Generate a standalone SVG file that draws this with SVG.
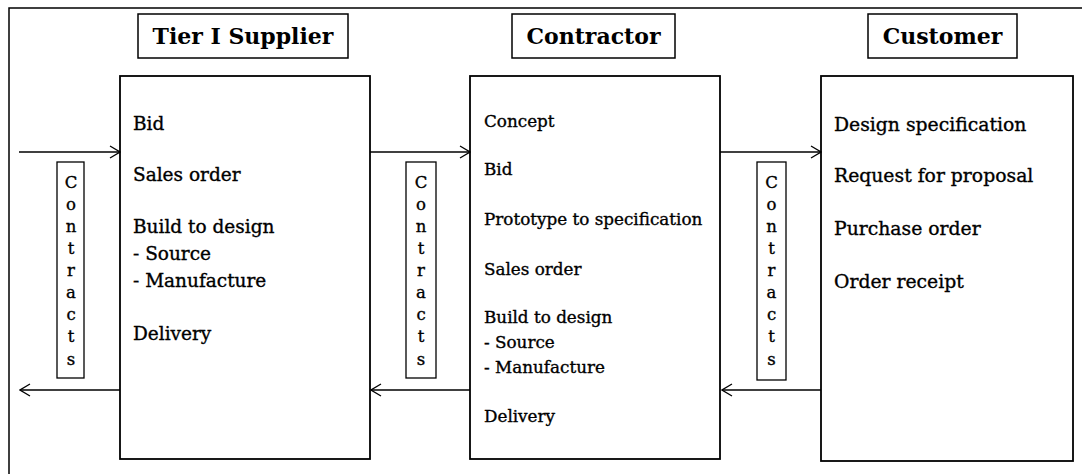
<svg xmlns="http://www.w3.org/2000/svg" width="1082" height="474" viewBox="0 0 1082 474">
  <style>
    .frame { fill: none; stroke: #000; stroke-width: 1.5; }
    .box { fill: #fff; stroke: #000; stroke-width: 1.8; }
    .tbox { fill: #fff; stroke: #000; stroke-width: 1.5; }
    .cbox { fill: #fff; stroke: #000; stroke-width: 1.3; }
    .title { font-family: "DejaVu Serif", serif; font-weight: bold; font-size: 22px; fill: #000; text-anchor: middle; }
    .body { font-family: "DejaVu Serif", serif; fill: #000; stroke: #000; stroke-width: 0.35; }
    .sup { font-size: 18.5px; }
    .con { font-size: 16.8px; }
    .cus { font-size: 18.8px; }
    .vert { font-family: "DejaVu Serif", serif; font-size: 16.5px; fill: #000; stroke: #000; stroke-width: 0.35; text-anchor: middle; }
    .link { fill: none; stroke: #000; stroke-width: 1.3; }
  </style>
  <defs>
    <marker id="head" viewBox="0 0 12 14" refX="11" refY="7" markerWidth="12" markerHeight="14" markerUnits="userSpaceOnUse" orient="auto">
      <path d="M1,1 L11,7 L1,13" fill="none" stroke="#000" stroke-width="1.3"/>
    </marker>
  </defs>

  <rect width="1082" height="474" fill="#fff"/>

  <!-- outer frame, open past the right and bottom edges -->
  <rect class="frame" x="9" y="8" width="1090" height="490"/>

  <g id="supplier">
    <rect class="tbox" x="138" y="14" width="210" height="44"/>
    <text class="title" x="243" y="44">Tier I Supplier</text>
    <rect class="box" x="120" y="76" width="250" height="383"/>
    <g class="body sup">
      <text x="133" y="130">Bid</text>
      <text x="133" y="181">Sales order</text>
      <text x="133" y="233">Build to design</text>
      <text x="133" y="260">- Source</text>
      <text x="133" y="287">- Manufacture</text>
      <text x="133" y="340">Delivery</text>
    </g>
  </g>

  <g id="contractor">
    <rect class="tbox" x="512" y="14" width="163" height="44"/>
    <text class="title" x="593.5" y="44">Contractor</text>
    <rect class="box" x="470" y="76" width="250" height="383"/>
    <g class="body con">
      <text x="484" y="127">Concept</text>
      <text x="484" y="175">Bid</text>
      <text x="484" y="225">Prototype to specification</text>
      <text x="484" y="275">Sales order</text>
      <text x="484" y="323">Build to design</text>
      <text x="484" y="348">- Source</text>
      <text x="484" y="373">- Manufacture</text>
      <text x="484" y="422">Delivery</text>
    </g>
  </g>

  <g id="customer">
    <rect class="tbox" x="868" y="14" width="149" height="44"/>
    <text class="title" x="942.5" y="44">Customer</text>
    <rect class="box" x="821" y="76" width="252" height="385"/>
    <g class="body cus">
      <text x="834" y="131">Design specification</text>
      <text x="834" y="182">Request for proposal</text>
      <text x="834" y="235">Purchase order</text>
      <text x="834" y="288">Order receipt</text>
    </g>
  </g>

  <g id="connectors">
    <line class="link" x1="19" y1="152" x2="120" y2="152" marker-end="url(#head)"/>
    <line class="link" x1="370" y1="152" x2="470" y2="152" marker-end="url(#head)"/>
    <line class="link" x1="720" y1="152" x2="821" y2="152" marker-end="url(#head)"/>
    <line class="link" x1="120" y1="390" x2="20" y2="390" marker-end="url(#head)"/>
    <line class="link" x1="470" y1="390" x2="371" y2="390" marker-end="url(#head)"/>
    <line class="link" x1="821" y1="390" x2="722" y2="390" marker-end="url(#head)"/>
  </g>

  <g id="contracts-1">
    <rect class="cbox" x="57" y="162" width="27" height="216"/>
    <text class="vert">
      <tspan x="71" y="188">C</tspan><tspan x="71" y="210">o</tspan><tspan x="71" y="232">n</tspan><tspan x="71" y="254">t</tspan><tspan x="71" y="276">r</tspan><tspan x="71" y="298">a</tspan><tspan x="71" y="320">c</tspan><tspan x="71" y="342">t</tspan><tspan x="71" y="365">s</tspan>
    </text>
  </g>
  <g id="contracts-2">
    <rect class="cbox" x="406" y="162" width="30" height="216"/>
    <text class="vert">
      <tspan x="421" y="188">C</tspan><tspan x="421" y="210">o</tspan><tspan x="421" y="232">n</tspan><tspan x="421" y="254">t</tspan><tspan x="421" y="276">r</tspan><tspan x="421" y="298">a</tspan><tspan x="421" y="320">c</tspan><tspan x="421" y="342">t</tspan><tspan x="421" y="365">s</tspan>
    </text>
  </g>
  <g id="contracts-3">
    <rect class="cbox" x="757" y="162" width="29" height="218"/>
    <text class="vert">
      <tspan x="771.5" y="188">C</tspan><tspan x="771.5" y="210">o</tspan><tspan x="771.5" y="232">n</tspan><tspan x="771.5" y="254">t</tspan><tspan x="771.5" y="276">r</tspan><tspan x="771.5" y="298">a</tspan><tspan x="771.5" y="320">c</tspan><tspan x="771.5" y="342">t</tspan><tspan x="771.5" y="365">s</tspan>
    </text>
  </g>
</svg>
